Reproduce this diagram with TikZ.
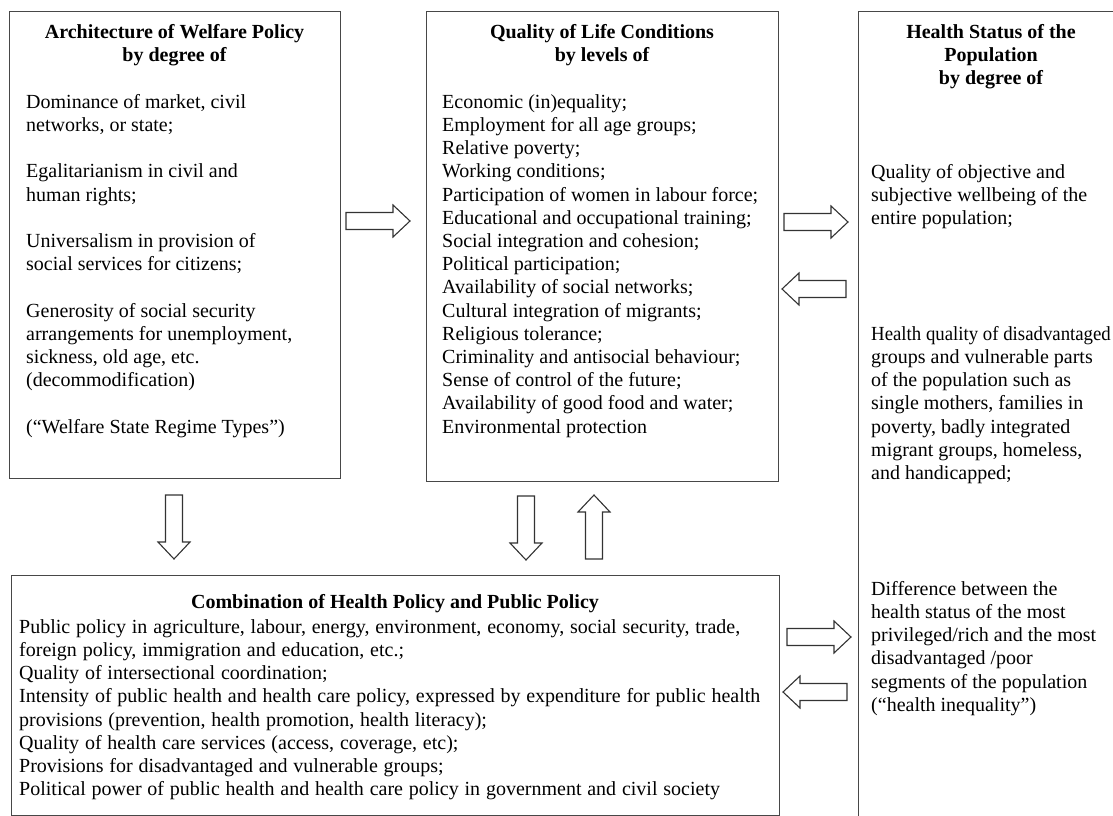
\documentclass[tikz,border=0pt]{standalone}
\usepackage{fontspec}
\usepackage{graphicx}
\setmainfont{Liberation Serif}
\newcommand\widerspaces{\spaceskip=5.8pt plus 1pt minus 1pt\relax}
\begin{document}
\begin{tikzpicture}[x=1pt,y=-1pt,
  box/.style={draw=black!72, line width=1.4pt, inner sep=0pt, anchor=north west},
  body/.style={inner sep=0pt, anchor=north west, align=left,
    font=\fontsize{20}{23.2}\selectfont},
  head/.style={inner sep=0pt, anchor=north, align=center,
    font=\fontsize{20}{23.2}\selectfont\bfseries},
  barrow/.style={draw=black!80, line width=1.1pt, fill=white, line join=miter},
  pics/blockarrow/.style={code={
    \draw[barrow] (0,-8.5) -- (47,-8.5) -- (47,-16) -- (64,0) -- (47,16)
      -- (47,8.5) -- (0,8.5) -- cycle;}}
]
\useasboundingbox (0,0) rectangle (1113,816);

% frames
\node[box, minimum width=331pt, minimum height=467pt] (wp) at (9,11) {};
\node[box, minimum width=352pt, minimum height=470pt] (ql) at (426,11) {};
\node[box, minimum width=768pt, minimum height=240pt] (hp) at (11,575) {};
\begin{scope}
  \clip (0,0) rectangle (1113,816);
  \node[box, minimum width=300pt, minimum height=860pt] (hs) at (858,11) {};
\end{scope}

% Architecture of Welfare Policy
\node[head] (wph) at (174.5,21.8) {\strut Architecture of Welfare Policy\\ by degree of};
\node[body] (wpt) at (26,91.8) {\strut Dominance of market, civil\\
  networks, or state;\\[23.2pt]
  Egalitarianism in civil and\\
  human rights;\\[23.2pt]
  Universalism in provision of\\
  social services for citizens;\\[23.2pt]
  Generosity of social security\\
  arrangements for unemployment,\\
  sickness, old age, etc.\\
  (decommodification)\\[23.2pt]
  (“Welfare State Regime Types”)};

% Quality of Life Conditions
\node[head] (qlh) at (602,21.8) {\strut Quality of Life Conditions\\ by levels of};
\node[body] (qlt) at (442,91.8) {\strut Economic (in)equality;\\
  Employment for all age groups;\\
  Relative poverty;\\
  Working conditions;\\
  Participation of women in labour force;\\
  Educational and occupational training;\\
  Social integration and cohesion;\\
  Political participation;\\
  Availability of social networks;\\
  Cultural integration of migrants;\\
  Religious tolerance;\\
  Criminality and antisocial behaviour;\\
  Sense of control of the future;\\
  Availability of good food and water;\\
  Environmental protection};

% Health Status of the Population
\node[head] (hsh) at (991,21.8) {\strut Health Status of the\\ Population\\ by degree of};
\node[body] (hs1) at (871,161.8) {\strut Quality of objective and\\
  subjective wellbeing of the\\
  entire population;};
\node[body] (hs2) at (871,323.8) {\strut\scalebox{0.94}[1]{Health quality of disadvantaged}\\
  groups and vulnerable parts\\
  of the population such as\\
  single mothers, families in\\
  poverty, badly integrated\\
  migrant groups, homeless,\\
  and handicapped;};
\node[body] (hs3) at (871,578.8) {\strut Difference between the\\
  health status of the most\\
  privileged/rich and the most\\
  disadvantaged /poor\\
  segments of the population\\
  (“health inequality”)};

% Combination of Health Policy and Public Policy
\node[head] (hph) at (395,591.8) {\strut Combination of Health Policy and Public Policy};
\node[body, font=\fontsize{20}{23.2}\selectfont\widerspaces] (hpt) at (19,616.8) {\strut Public policy in agriculture, labour, energy, environment, economy, social security, trade,\\
  foreign policy, immigration and education, etc.;\\
  Quality of intersectional coordination;\\
  Intensity of public health and health care policy, expressed by expenditure for public health\\
  provisions (prevention, health promotion, health literacy);\\
  Quality of health care services (access, coverage, etc);\\
  Provisions for disadvantaged and vulnerable groups;\\
  Political power of public health and health care policy in government and civil society};

% block arrows between the frames
\pic (a1) at (346,221) {blockarrow};
\pic (a2) at (784,222) {blockarrow};
\pic[rotate=180] (a3) at (846,289) {blockarrow};
\pic[rotate=-90] (a4) at (174,495) {blockarrow};
\pic[rotate=-90] (a5) at (526,496) {blockarrow};
\pic[rotate=90] (a6) at (594,559) {blockarrow};
\pic (a7) at (787,637) {blockarrow};
\pic[rotate=180] (a8) at (847,692) {blockarrow};
\end{tikzpicture}
\end{document}
